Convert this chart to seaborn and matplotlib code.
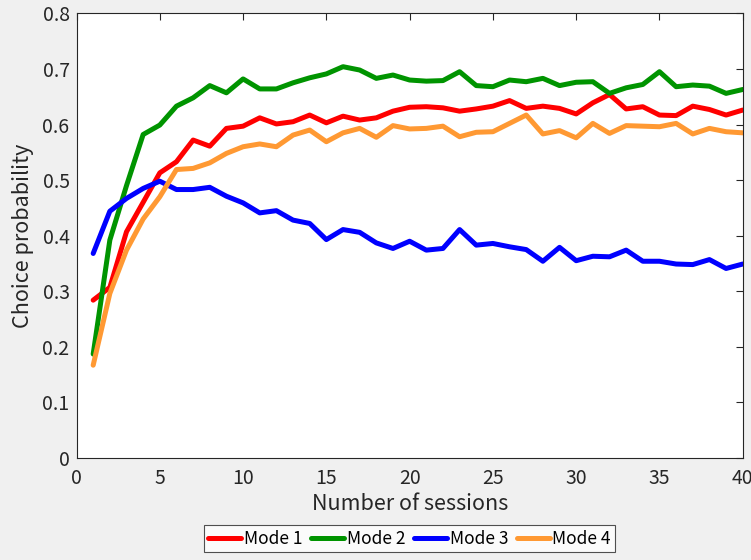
import matplotlib
matplotlib.use("Agg")
import matplotlib.pyplot as plt
import numpy as np
import pandas as pd
import seaborn as sns

sessions = list(range(1, 41))

mode1 = [0.284, 0.307, 0.407, 0.460, 0.513, 0.533, 0.572, 0.561, 0.593, 0.597,
         0.612, 0.601, 0.605, 0.617, 0.603, 0.615, 0.608, 0.612, 0.624, 0.631,
         0.632, 0.630, 0.624, 0.628, 0.633, 0.643, 0.629, 0.633, 0.629, 0.619,
         0.639, 0.654, 0.628, 0.632, 0.617, 0.616, 0.633, 0.627, 0.617, 0.626]
mode2 = [0.187, 0.392, 0.490, 0.582, 0.599, 0.633, 0.648, 0.670, 0.657, 0.682,
         0.664, 0.664, 0.675, 0.684, 0.691, 0.704, 0.698, 0.683, 0.689, 0.680,
         0.678, 0.679, 0.695, 0.670, 0.668, 0.680, 0.677, 0.683, 0.670, 0.676,
         0.677, 0.656, 0.666, 0.672, 0.695, 0.668, 0.671, 0.669, 0.656, 0.663]
mode3 = [0.368, 0.444, 0.467, 0.485, 0.498, 0.483, 0.483, 0.487, 0.471, 0.459,
         0.441, 0.445, 0.428, 0.422, 0.393, 0.411, 0.406, 0.387, 0.377, 0.390,
         0.374, 0.377, 0.411, 0.383, 0.386, 0.380, 0.375, 0.354, 0.379, 0.355,
         0.363, 0.362, 0.374, 0.354, 0.354, 0.349, 0.348, 0.357, 0.341, 0.349]
mode4 = [0.167, 0.296, 0.374, 0.430, 0.470, 0.519, 0.521, 0.531, 0.548, 0.560,
         0.565, 0.560, 0.581, 0.590, 0.569, 0.585, 0.593, 0.577, 0.598, 0.592,
         0.593, 0.597, 0.578, 0.586, 0.587, 0.602, 0.617, 0.583, 0.589, 0.576,
         0.602, 0.584, 0.598, 0.597, 0.596, 0.602, 0.583, 0.593, 0.587, 0.585]

mode_names = ["Mode 1", "Mode 2", "Mode 3", "Mode 4"]
mode_colors = ["#ff0000", "#009400", "#0000ff", "#ff9933"]

df = pd.DataFrame({
    "session": sessions * 4,
    "prob": mode1 + mode2 + mode3 + mode4,
    "mode": sum([[m] * len(sessions) for m in mode_names], []),
})

sns.set_style("white")
plt.rcParams["font.family"] = ["Noto Sans CJK JP", "DejaVu Sans"]

text_col = "#262626"
fig = plt.figure(figsize=(7.51, 5.60), dpi=100, facecolor="#f0f0f0")
ax = fig.add_axes([0.1019, 0.1821, 0.8871, 0.7941])
ax.set_facecolor("white")

sns.lineplot(data=df, x="session", y="prob", hue="mode", palette=mode_colors,
             hue_order=mode_names, linewidth=3.6, ax=ax, legend=False)

ax.set_xlim(0, 40)
ax.set_ylim(0, 0.8)
ax.set_xticks(np.arange(0, 41, 5))
ax.set_yticks(np.arange(0, 0.81, 0.1))
ax.set_xticklabels([str(v) for v in range(0, 41, 5)])
ax.set_yticklabels(["0"] + [f"{v:.1f}" for v in np.arange(0.1, 0.81, 0.1)])
ax.tick_params(direction="in", length=5, width=0.8, top=True, right=True,
               labelsize=14, colors=text_col)
ax.tick_params(axis="x", pad=7)
ax.tick_params(axis="y", pad=5)
for s in ax.spines.values():
    s.set_color(text_col)
    s.set_linewidth(0.8)

ax.set_xlabel("Number of sessions", fontsize=15.5, color=text_col, labelpad=3)
ax.set_ylabel("Choice probability", fontsize=15.5, color=text_col, labelpad=6)

handles = [plt.Line2D([], [], color=c, lw=3.6) for c in mode_colors]
leg = fig.legend(handles, mode_names, loc="center", bbox_to_anchor=(409.7 / 751, 1 - 538.7 / 560),
                 ncol=4, frameon=True, fancybox=False, fontsize=12.5, handlelength=1.9,
                 handletextpad=0.15, columnspacing=0.5, borderpad=0.25, borderaxespad=0)
leg.get_frame().set_edgecolor(text_col)
leg.get_frame().set_linewidth(0.8)
for t in leg.get_texts():
    t.set_color("black")

fig.savefig("out.png", dpi=100, facecolor=fig.get_facecolor())
